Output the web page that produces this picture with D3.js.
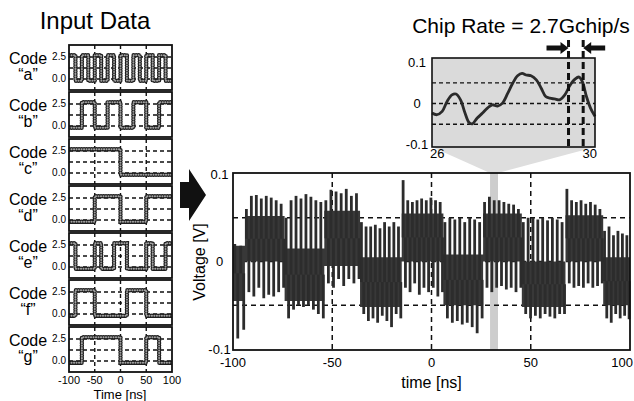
<!DOCTYPE html>
<html>
<head>
<meta charset="utf-8">
<script src="https://cdn.jsdelivr.net/npm/d3@7"></script>
<style>
  body { margin: 0; background: #fff; }
  svg { font-family: "Liberation Sans", Arial, Helvetica, sans-serif; }
</style>
</head>
<body>
<svg id="fig" width="634" height="401"></svg>
<script>
'use strict';

// ---- input codes (one value per 12.5 ns chip, -100..100 ns) ----
var codeNames = ["a", "b", "c", "d", "e", "f", "g"];
var codeA = [1,0,1,0,1,0,1,0,1,0,1,0,1,0,1,0];
var codeB = [0,0,1,1,0,0,1,1,0,0,1,1,0,0,1,1];
var codeC = [1,1,1,1,1,1,1,1,0,0,0,0,0,0,0,0];
var codeD = [0,0,0,0,1,1,1,1,0,0,0,0,1,1,1,1];
var codeE = [1,0,0,0,1,0,0,1,1,0,0,0,1,0,0,1];
var codeF = [0,1,1,1,0,0,0,0,0,1,1,1,0,0,0,0];
var codeG = [0,0,1,1,1,1,1,1,0,0,0,0,1,1,0,0];
var chipLevels = [-0.2, 2.7];
var codeTicks = [0.0, 2.5];
var codeTimeTicks = [-100, -50, 0, 50, 100];

// ---- summed output: level segments, dense band and overshoot spikes ----
var segStart = [-100, -94, -74, -54, -36, -15, 6, 26, 45.5, 67.5, 86.5];
var bandLo   = [-0.045, 0.0, -0.045, -0.005, -0.052, 0.0, -0.05, 0.0, -0.052, 0.0, -0.05];
var bandHi   = [0.018, 0.052, 0.015, 0.058, 0.005, 0.055, 0.008, 0.055, 0.0, 0.053, 0.005];
var spikeHi = [
  [0.02, 0.018],
  [0.06, 0.075, 0.076, 0.072, 0.075, 0.073, 0.07, 0.066],
  [0.05, 0.07, 0.075, 0.072, 0.077, 0.074, 0.07, 0.068],
  [0.07, 0.082, 0.08, 0.078, 0.083, 0.075, 0.078],
  [0.045, 0.04, 0.04, 0.042, 0.038, 0.045, 0.04, 0.045, 0.04],
  [0.093, 0.07, 0.068, 0.07, 0.072, 0.07, 0.073, 0.07, 0.068],
  [0.045, 0.05, 0.048, 0.05, 0.045, 0.05, 0.048, 0.045],
  [0.068, 0.074, 0.07, 0.07, 0.068, 0.066, 0.065, 0.06],
  [0.045, 0.05, 0.05, 0.048, 0.05, 0.047, 0.05, 0.048, 0.045],
  [0.083, 0.07, 0.068, 0.07, 0.066, 0.068, 0.065, 0.06],
  [0.035, 0.04, 0.03, 0.035, 0.032, 0.03]
];
var spikeLo = [
  [-0.088, -0.078],
  [-0.035, -0.04, -0.03, -0.042, -0.038, -0.04, -0.035, -0.03],
  [-0.065, -0.055, -0.05, -0.052, -0.05, -0.055, -0.06, -0.065],
  [-0.025, -0.03, -0.02, -0.028, -0.02, -0.025, -0.02],
  [-0.06, -0.068, -0.065, -0.07, -0.062, -0.068, -0.075, -0.06, -0.065],
  [-0.03, -0.035, -0.025, -0.038, -0.03, -0.035, -0.03, -0.04, -0.035],
  [-0.065, -0.07, -0.068, -0.072, -0.07, -0.075, -0.082, -0.065],
  [-0.03, -0.035, -0.03, -0.028, -0.032, -0.03, -0.035, -0.03],
  [-0.06, -0.065, -0.062, -0.065, -0.06, -0.063, -0.065, -0.06, -0.06],
  [-0.025, -0.03, -0.028, -0.03, -0.025, -0.03, -0.028, -0.025],
  [-0.065, -0.07, -0.06, -0.065, -0.062, -0.066]
];
var mainXTicks = [-100, -50, 0, 50, 100];
var mainYTicks = [0.1, 0, -0.1];
var zoomBand = [29.5, 33.5];

// ---- zoomed window 26..30 ns ----
var zoomT = [26.00,26.12,26.25,26.37,26.49,26.59,26.70,26.81,26.91,26.99,27.11,27.24,27.36,27.48,27.61,27.73,27.86,27.98,
             28.10,28.21,28.31,28.43,28.56,28.68,28.79,28.89,29.01,29.13,29.26,29.38,29.51,29.61,29.69,29.79,29.89,30.00];
var zoomV = [-0.023,-0.027,-0.019,0.005,0.021,0.023,0.009,-0.023,-0.046,-0.049,-0.035,-0.023,-0.011,-0.003,-0.006,0.001,0.025,0.049,
             0.067,0.073,0.069,0.067,0.057,0.037,0.017,0.013,0.011,0.009,0.021,0.043,0.059,0.064,0.053,0.017,-0.011,-0.031];
var chipEdges = [29.35, 29.71];

var codes = [codeA, codeB, codeC, codeD, codeE, codeF, codeG];
var svg = d3.select("#fig");
var ink = "#111";

// ================= left: input codes =================
var panelTop = [45, 92, 139, 186, 233, 280, 327];
var ph = 45;
var xc = d3.scaleLinear().domain([-100, 100]).range([69, 172]);

svg.append("text").attr("x", 95).attr("y", 29).attr("text-anchor", "middle")
  .style("font-size", "24px").text("Input Data");

var defs = svg.append("defs");

codes.forEach(function(code, k){
  var top = panelTop[k];
  var y = d3.scaleLinear().domain([-1.25, 3.86]).range([top + ph, top]);
  var g = svg.append("g");

  defs.append("clipPath").attr("id", "cp" + k).append("rect")
    .attr("x", xc(-100)).attr("y", top).attr("width", xc(100) - xc(-100)).attr("height", ph);

  [0, 1.25, 2.5].forEach(function(v){
    g.append("line").attr("x1", xc(-100)).attr("x2", xc(100)).attr("y1", y(v)).attr("y2", y(v))
      .attr("stroke", ink).attr("stroke-width", 1.4).attr("stroke-dasharray", "4,3");
  });
  [-50, 0, 50].forEach(function(t){
    g.append("line").attr("x1", xc(t)).attr("x2", xc(t)).attr("y1", top).attr("y2", top + ph)
      .attr("stroke", ink).attr("stroke-width", 1.4).attr("stroke-dasharray", "4,3");
  });

  var pts = code.map(function(c, i){ return {t: -100 + 12.5 * i, v: chipLevels[c]}; });
  pts.push({t: 100, v: chipLevels[code[code.length - 1]]});
  var line = d3.line().x(function(d){ return xc(d.t); }).y(function(d){ return y(d.v); })
    .curve(d3.curveStepAfter);

  var wave = g.append("g").attr("clip-path", "url(#cp" + k + ")");
  wave.append("path").attr("d", line(pts)).attr("fill", "none")
    .attr("stroke", "#1e1e1e").attr("stroke-width", 4.4).attr("stroke-linecap", "round")
    .attr("stroke-dasharray", "0.1,2.4");
  wave.append("path").attr("d", line(pts)).attr("fill", "none")
    .attr("stroke", "#a0a0a0").attr("stroke-width", 2.0).attr("stroke-linecap", "round")
    .attr("stroke-dasharray", "0.1,2.4");

  g.append("rect").attr("x", xc(-100)).attr("y", top).attr("width", xc(100) - xc(-100)).attr("height", ph)
    .attr("fill", "none").attr("stroke", ink).attr("stroke-width", 1.8);

  codeTicks.forEach(function(v){
    g.append("text").attr("x", 66).attr("y", y(v) + 3.5).attr("text-anchor", "end")
      .style("font-size", "10px").text(v.toFixed(1));
  });

  g.append("text").attr("x", 28).attr("y", top + 19).attr("text-anchor", "middle")
    .style("font-size", "16px").text("Code");
  g.append("text").attr("x", 28).attr("y", top + 35).attr("text-anchor", "middle")
    .style("font-size", "16px").text("\u201c" + codeNames[k] + "\u201d");
});

codeTimeTicks.forEach(function(t){
  svg.append("text").attr("x", xc(t)).attr("y", 384).attr("text-anchor", "middle")
    .style("font-size", "11px").text(t);
});
svg.append("text").attr("x", 120).attr("y", 399).attr("text-anchor", "middle")
  .style("font-size", "13px").text("Time [ns]");

// big arrow
svg.append("path")
  .attr("d", "M180,182 L189,182 L189,169 L206,195 L189,221 L189,208 L180,208 Z")
  .attr("fill", ink);

// ================= main plot =================
var mx = d3.scaleLinear().domain([-100, 100]).range([233, 630]);
var my = d3.scaleLinear().domain([-0.1, 0.1]).range([349, 174]);
var mTop = 173, mBot = 350;

// inset scales (needed for the fan)
var ix = d3.scaleLinear().domain([26, 30]).range([432, 595]);
var iy = d3.scaleLinear().domain([-0.105, 0.11]).range([147, 58]);

// shaded strip + fan toward the inset
svg.append("rect").attr("x", mx(zoomBand[0])).attr("y", mTop)
  .attr("width", mx(zoomBand[1]) - mx(zoomBand[0])).attr("height", mBot - mTop)
  .attr("fill", "#cdcdcd");
svg.append("path")
  .attr("d", "M" + ix(26) + "," + iy.range()[0] + " L" + ix(30) + "," + iy.range()[0] +
    " L" + mx(zoomBand[1]) + "," + mTop + " L" + mx(zoomBand[0]) + "," + mTop + " Z")
  .attr("fill", "#dedede");

[0.05, 0, -0.05].forEach(function(v){
  svg.append("line").attr("x1", mx(-100)).attr("x2", mx(100)).attr("y1", my(v)).attr("y2", my(v))
    .attr("stroke", ink).attr("stroke-width", 1.5).attr("stroke-dasharray", "5,4");
});
[-50, 0, 50].forEach(function(t){
  svg.append("line").attr("x1", mx(t)).attr("x2", mx(t)).attr("y1", mTop).attr("y2", mBot)
    .attr("stroke", ink).attr("stroke-width", 1.5).attr("stroke-dasharray", "5,4");
});

// dense band
var bandPts = segStart.map(function(s, i){ return {t: s, lo: bandLo[i], hi: bandHi[i]}; });
bandPts.push({t: 100, lo: bandLo[bandLo.length - 1], hi: bandHi[bandHi.length - 1]});
var band = d3.area().x(function(d){ return mx(d.t); })
  .y0(function(d){ return my(d.lo); }).y1(function(d){ return my(d.hi); })
  .curve(d3.curveStepAfter);
svg.append("path").attr("d", band(bandPts)).attr("fill", "#383838");

// spikes
var spikes = [];
segStart.forEach(function(s, i){
  var e = i + 1 < segStart.length ? segStart[i + 1] : 100;
  var n = spikeHi[i].length;
  var dt = (e - s) / n;
  var mid = (bandLo[i] + bandHi[i]) / 2;
  spikeHi[i].forEach(function(v, j){ spikes.push({t: s + (j + 0.3) * dt, a: mid, b: v}); });
  spikeLo[i].forEach(function(v, j){ spikes.push({t: s + (j + 0.8) * dt, a: mid, b: v}); });
});
svg.append("g").selectAll("line").data(spikes).enter().append("line")
  .attr("x1", function(d){ return mx(d.t); }).attr("x2", function(d){ return mx(d.t); })
  .attr("y1", function(d){ return my(d.a); }).attr("y2", function(d){ return my(d.b); })
  .attr("stroke", "#2c2c2c").attr("stroke-width", 2.8);

svg.append("rect").attr("x", mx(-100)).attr("y", mTop).attr("width", mx(100) - mx(-100))
  .attr("height", mBot - mTop).attr("fill", "none").attr("stroke", ink).attr("stroke-width", 1.8);

mainYTicks.forEach(function(v){
  svg.append("text").attr("x", 219.5).attr("y", my(v) + 4.5).attr("text-anchor", "middle")
    .style("font-size", "13px").text(v);
});
mainXTicks.forEach(function(t, i){
  var last = i === mainXTicks.length - 1;
  svg.append("text").attr("x", last ? 633 : mx(t)).attr("y", 367)
    .attr("text-anchor", last ? "end" : "middle")
    .style("font-size", "13px").text(t);
});
svg.append("text").attr("x", mx(0)).attr("y", 388).attr("text-anchor", "middle")
  .style("font-size", "16px").text("time [ns]");
svg.append("text").attr("transform", "translate(205,262) rotate(-90)").attr("text-anchor", "middle")
  .style("font-size", "16px").text("Voltage [V]");

// ================= inset =================
svg.append("text").attr("x", 521).attr("y", 33).attr("text-anchor", "middle")
  .style("font-size", "21px").text("Chip Rate = 2.7Gchip/s");

svg.append("rect").attr("x", ix(26)).attr("y", iy(0.11)).attr("width", ix(30) - ix(26))
  .attr("height", iy(-0.105) - iy(0.11)).attr("fill", "#dadada");

[0.05, 0, -0.05].forEach(function(v){
  svg.append("line").attr("x1", ix(26)).attr("x2", ix(30)).attr("y1", iy(v)).attr("y2", iy(v))
    .attr("stroke", ink).attr("stroke-width", 1.4).attr("stroke-dasharray", "4,3");
});

var zline = d3.line().x(function(d, i){ return ix(zoomT[i]); }).y(function(d){ return iy(d); })
  .curve(d3.curveCatmullRom);
svg.append("path").attr("d", zline(zoomV)).attr("fill", "none")
  .attr("stroke", "#2a2a2a").attr("stroke-width", 2.8);

chipEdges.forEach(function(t){
  svg.append("line").attr("x1", ix(t)).attr("x2", ix(t)).attr("y1", 40).attr("y2", iy(-0.105))
    .attr("stroke", ink).attr("stroke-width", 3).attr("stroke-dasharray", "7,4");
});

// arrows pointing at the chip edges
var ay = 48;
var t0 = ix(chipEdges[0]), t1 = ix(chipEdges[1]);
svg.append("path")
  .attr("d", "M" + (t0 - 22) + "," + (ay - 2.5) + " L" + (t0 - 8) + "," + (ay - 2.5) + " L" + (t0 - 8) + "," + (ay - 6) +
    " L" + t0 + "," + ay + " L" + (t0 - 8) + "," + (ay + 6) + " L" + (t0 - 8) + "," + (ay + 2.5) +
    " L" + (t0 - 22) + "," + (ay + 2.5) + " Z")
  .attr("fill", ink);
svg.append("path")
  .attr("d", "M" + (t1 + 22) + "," + (ay - 2.5) + " L" + (t1 + 8) + "," + (ay - 2.5) + " L" + (t1 + 8) + "," + (ay - 6) +
    " L" + t1 + "," + ay + " L" + (t1 + 8) + "," + (ay + 6) + " L" + (t1 + 8) + "," + (ay + 2.5) +
    " L" + (t1 + 22) + "," + (ay + 2.5) + " Z")
  .attr("fill", ink);

svg.append("rect").attr("x", ix(26)).attr("y", iy(0.11)).attr("width", ix(30) - ix(26))
  .attr("height", iy(-0.105) - iy(0.11)).attr("fill", "none").attr("stroke", ink).attr("stroke-width", 1.6);

[0.1, 0, -0.1].forEach(function(v){
  svg.append("text").attr("x", 417).attr("y", iy(v) + 4.5).attr("text-anchor", "middle")
    .style("font-size", "13px").text(v);
});
svg.append("text").attr("x", ix(26) - 2).attr("y", 158).attr("text-anchor", "start")
  .style("font-size", "13px").text("26");
svg.append("text").attr("x", ix(30) + 2).attr("y", 158).attr("text-anchor", "end")
  .style("font-size", "13px").text("30");
</script>
</body>
</html>
